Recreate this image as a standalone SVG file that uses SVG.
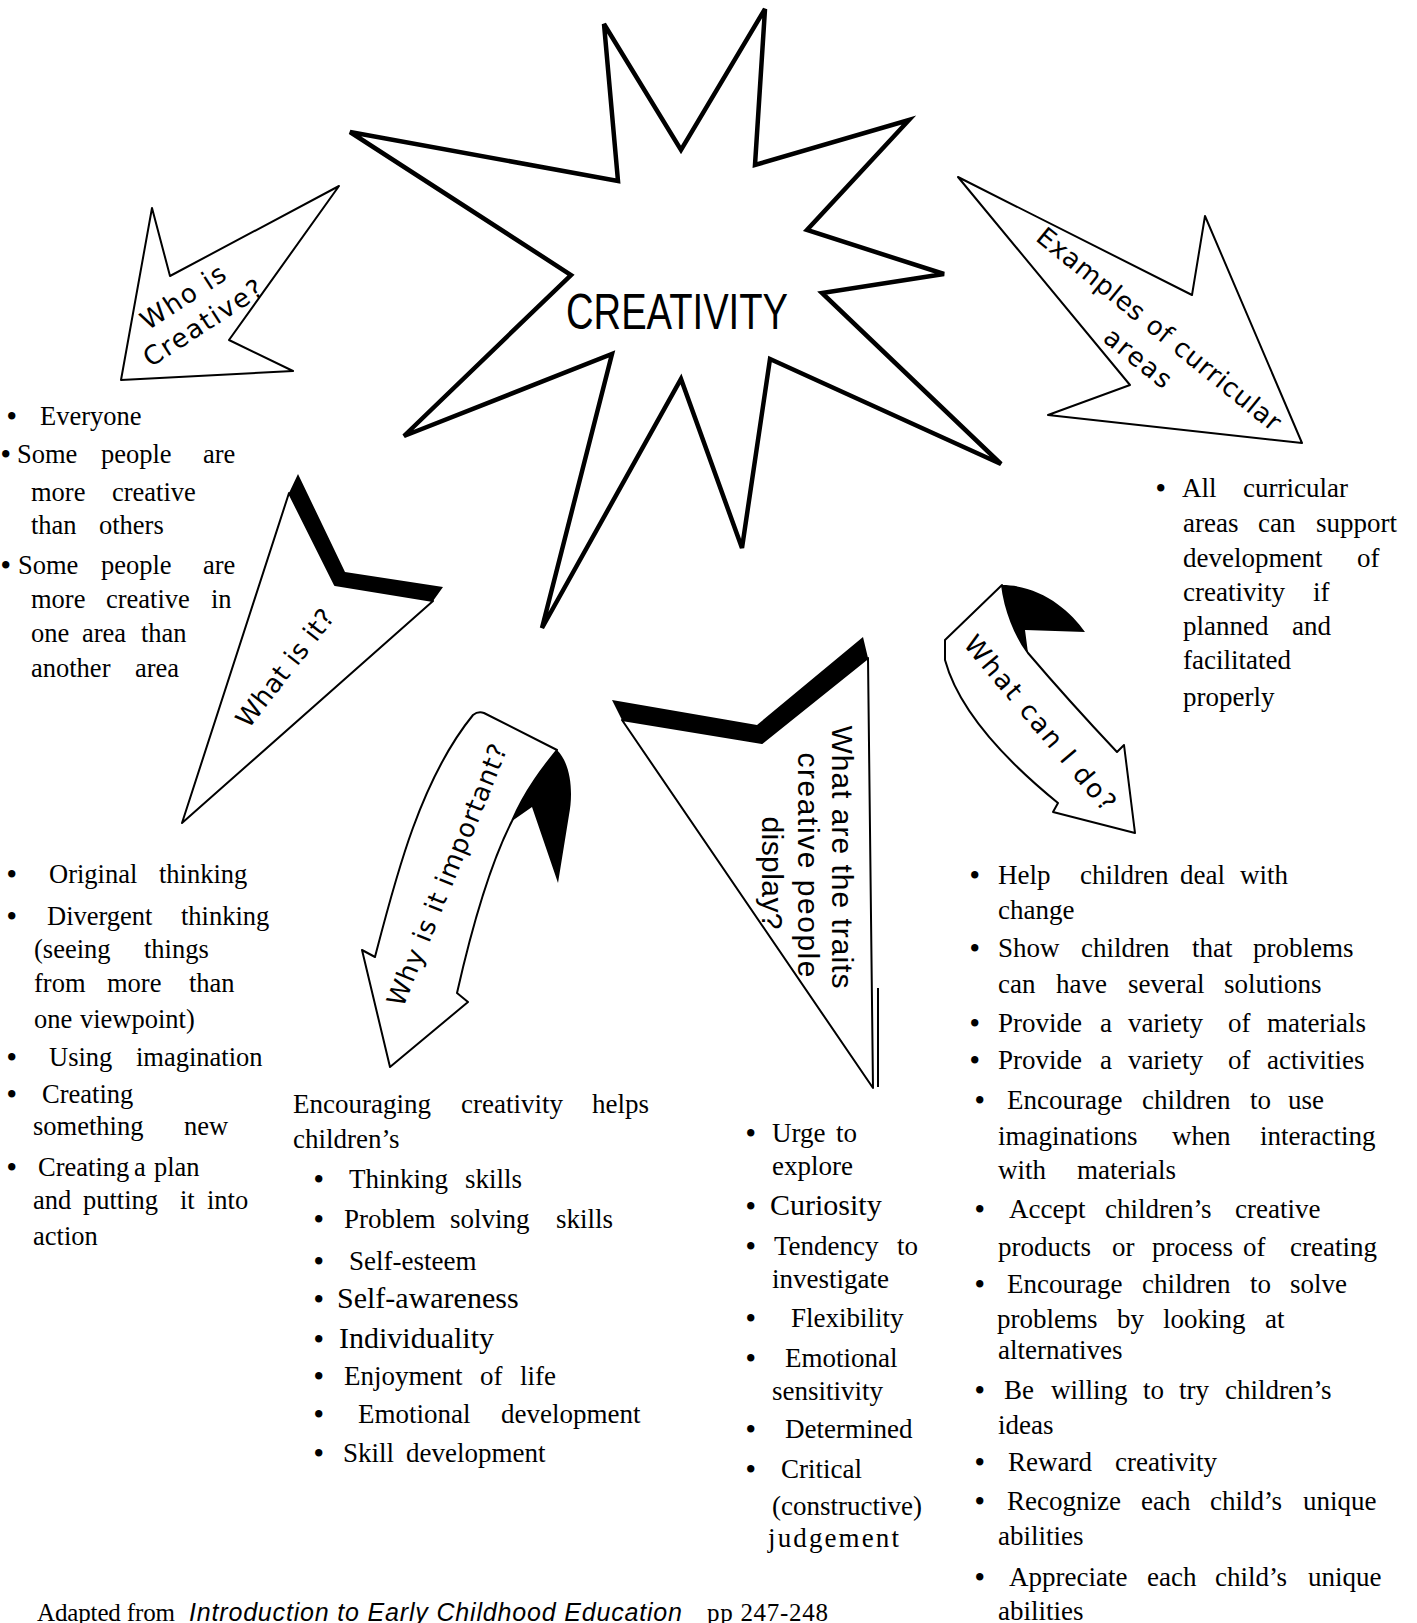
<svg xmlns="http://www.w3.org/2000/svg" width="1417" height="1623" viewBox="0 0 1417 1623">
<style>
text{font-family:"Liberation Serif","Times New Roman",serif;font-size:27px;fill:#000}
#block-who text,#block-what text{font-size:26.5px}
.shape{fill:#fff;stroke:#000;stroke-width:2;stroke-linejoin:round}
.star{fill:#fff;stroke:#000;stroke-width:4.5;stroke-linejoin:miter}
.ink{fill:#000;stroke:none}
.big{font-size:30px}
.b{font-size:27px;font-weight:bold}
.title{font-family:"Liberation Sans",Arial,sans-serif;font-size:50px}
.lbl{font-family:"DejaVu Sans","Liberation Sans",sans-serif;font-size:26px}
.lbl2{font-family:"Liberation Sans",Arial,sans-serif;font-size:30px}
.foot{font-size:25px}
.ital{font-family:"Liberation Sans",Arial,sans-serif;font-style:italic;font-size:25px}
</style>
<rect width="1417" height="1623" fill="#fff"/>

<g id="node-creativity">
<polygon class="star" points="604,24 681,150 765,9 755,165 909,120 807,230 944,274 822,293 1001,464 770,359 742,548 681,379 542,628 612,354 404,436 571,275 350,132 618,181"/>
<text class="title" x="566" y="329" textLength="222" lengthAdjust="spacingAndGlyphs">CREATIVITY</text>
</g>

<g id="connectors">
<g id="arrow-who">
<polygon class="shape" points="339,186 229,340 293,371 121,380 152,208 170,276"/>
<text class="lbl" transform="translate(183,297) rotate(-33)" text-anchor="middle" dominant-baseline="central" textLength="96">Who is</text>
<text class="lbl" transform="translate(203,323) rotate(-33)" text-anchor="middle" dominant-baseline="central" textLength="137">Creative?</text>
</g>
<g id="arrow-examples">
<polygon class="shape" points="958,177 1192,295 1205,216 1302,443 1048,415 1130,385"/>
<text class="lbl" transform="translate(1159,329) rotate(39)" text-anchor="middle" dominant-baseline="central" textLength="306">Examples of curricular</text>
<text class="lbl" transform="translate(1138,358) rotate(39)" text-anchor="middle" dominant-baseline="central" textLength="79">areas</text>
</g>
<g id="arrow-what">
<polygon class="shape" points="289,493 335,585 433,601 182,823"/>
<polygon class="ink" points="298,474 345,572 443,587 433,601 335,585 289,493"/>
<text class="lbl" transform="translate(285,668) rotate(-52)" text-anchor="middle" dominant-baseline="central" textLength="142">What is it?</text>
</g>
<g id="arrow-why">
<path class="shape" d="M473,715 Q478,711 484,713 L557,750 C545,765 525,790 512,821 Q483,878 457,993 L468,1002 L390,1067 L362,950 L375,957 C395,880 420,780 473,715 Z"/>
<path class="ink" d="M557,750 C572,765 573,795 569,815 L558,883 L532,807 L512,821 C525,790 545,765 557,750 Z"/>
<text class="lbl" transform="translate(447,875) rotate(-68)" text-anchor="middle" dominant-baseline="central" textLength="280">Why is it important?</text>
</g>
<g id="arrow-traits">
<polygon class="shape" points="622,720 762,743 868,658 873,1088"/>
<polygon class="ink" points="612,700 757,725 863,637 868,658 762,743 622,720"/>
<line x1="878" y1="988" x2="878" y2="1087" stroke="#000" stroke-width="2"/>
<text class="lbl2" transform="translate(842,857) rotate(90)" text-anchor="middle" dominant-baseline="central" textLength="263">What are the traits</text>
<text class="lbl2" transform="translate(808,865) rotate(90)" text-anchor="middle" dominant-baseline="central" textLength="225">creative people</text>
<text class="lbl2" transform="translate(772,873) rotate(90)" text-anchor="middle" dominant-baseline="central" textLength="113">display?</text>
</g>
<g id="arrow-cando">
<path class="shape" d="M945,640 L1002,585 C1005,610 1015,635 1028,653 Q1068,700 1117,752 L1124,745 L1135,833 L1053,812 L1058,803 C1015,768 960,715 945,660 Z"/>
<path class="ink" d="M1002,585 C1040,585 1070,610 1085,632 L1025,630 L1028,653 C1015,635 1005,610 1002,585 Z"/>
<text class="lbl" transform="translate(1040,723) rotate(50)" text-anchor="middle" dominant-baseline="central" textLength="220">What can I do?</text>
</g>
</g>

<g id="block-who">
<text y="425"><tspan class="b" x="7">•</tspan><tspan x="40">Everyone</tspan></text>
<text y="463"><tspan class="b" x="1">•</tspan><tspan x="17">Some</tspan><tspan x="101">people</tspan><tspan x="203">are</tspan></text>
<text y="501"><tspan x="31">more</tspan><tspan x="112">creative</tspan></text>
<text y="534"><tspan x="31">than</tspan><tspan x="99">others</tspan></text>
<text y="574"><tspan class="b" x="1">•</tspan><tspan x="18">Some</tspan><tspan x="101">people</tspan><tspan x="203">are</tspan></text>
<text y="608"><tspan x="31">more</tspan><tspan x="106">creative</tspan><tspan x="211">in</tspan></text>
<text y="642"><tspan x="31">one</tspan><tspan x="82">area</tspan><tspan x="141">than</tspan></text>
<text y="677"><tspan x="31">another</tspan><tspan x="135">area</tspan></text>
</g>

<g id="block-what">
<text y="883"><tspan class="b" x="7">•</tspan><tspan x="49">Original</tspan><tspan x="159">thinking</tspan></text>
<text y="925"><tspan class="b" x="7">•</tspan><tspan x="47">Divergent</tspan><tspan x="181">thinking</tspan></text>
<text y="958"><tspan x="34">(seeing</tspan><tspan x="144">things</tspan></text>
<text y="992"><tspan x="34">from</tspan><tspan x="107">more</tspan><tspan x="189">than</tspan></text>
<text y="1028"><tspan x="34">one</tspan><tspan x="80">viewpoint)</tspan></text>
<text y="1066"><tspan class="b" x="7">•</tspan><tspan x="49">Using</tspan><tspan x="136">imagination</tspan></text>
<text y="1103"><tspan class="b" x="7">•</tspan><tspan x="42">Creating</tspan></text>
<text y="1135"><tspan x="33">something</tspan><tspan x="184">new</tspan></text>
<text y="1176"><tspan class="b" x="7">•</tspan><tspan x="38">Creating</tspan><tspan x="134">a</tspan><tspan x="154">plan</tspan></text>
<text y="1209"><tspan x="33">and</tspan><tspan x="83">putting</tspan><tspan x="180">it</tspan><tspan x="207">into</tspan></text>
<text y="1245"><tspan x="33">action</tspan></text>
</g>

<g id="block-why">
<text y="1113"><tspan x="293">Encouraging</tspan><tspan x="461">creativity</tspan><tspan x="592">helps</tspan></text>
<text y="1148"><tspan x="293">children’s</tspan></text>
<text y="1188"><tspan class="b" x="314">•</tspan><tspan x="349">Thinking</tspan><tspan x="465">skills</tspan></text>
<text y="1228"><tspan class="b" x="314">•</tspan><tspan x="344">Problem</tspan><tspan x="450">solving</tspan><tspan x="556">skills</tspan></text>
<text y="1270"><tspan class="b" x="314">•</tspan><tspan x="349">Self-esteem</tspan></text>
<text y="1308"><tspan class="b" x="314">•</tspan><tspan class="big" x="337">Self-awareness</tspan></text>
<text y="1348"><tspan class="b" x="314">•</tspan><tspan class="big" x="339">Individuality</tspan></text>
<text y="1385"><tspan class="b" x="314">•</tspan><tspan x="344">Enjoyment</tspan><tspan x="480">of</tspan><tspan x="520">life</tspan></text>
<text y="1423"><tspan class="b" x="314">•</tspan><tspan x="358">Emotional</tspan><tspan x="501">development</tspan></text>
<text y="1462"><tspan class="b" x="314">•</tspan><tspan x="343">Skill</tspan><tspan x="406">development</tspan></text>
</g>

<g id="block-traits">
<text y="1142"><tspan class="b" x="746">•</tspan><tspan x="772">Urge</tspan><tspan x="836">to</tspan></text>
<text y="1175"><tspan x="772">explore</tspan></text>
<text y="1215"><tspan class="b" x="746">•</tspan><tspan class="big" x="770">Curiosity</tspan></text>
<text y="1255"><tspan class="b" x="746">•</tspan><tspan x="774">Tendency</tspan><tspan x="897">to</tspan></text>
<text y="1288"><tspan x="772">investigate</tspan></text>
<text y="1327"><tspan class="b" x="746">•</tspan><tspan x="791">Flexibility</tspan></text>
<text y="1367"><tspan class="b" x="746">•</tspan><tspan x="785">Emotional</tspan></text>
<text y="1400"><tspan x="772">sensitivity</tspan></text>
<text y="1438"><tspan class="b" x="746">•</tspan><tspan x="785">Determined</tspan></text>
<text y="1478"><tspan class="b" x="746">•</tspan><tspan x="781">Critical</tspan></text>
<text y="1515"><tspan x="772">(constructive)</tspan></text>
<text y="1547" x="768" textLength="131">judgement</text>
</g>

<g id="block-cando">
<text y="884"><tspan class="b" x="970">•</tspan><tspan x="998">Help</tspan><tspan x="1080">children</tspan><tspan x="1180">deal</tspan><tspan x="1240">with</tspan></text>
<text y="919"><tspan x="998">change</tspan></text>
<text y="957"><tspan class="b" x="970">•</tspan><tspan x="998">Show</tspan><tspan x="1081">children</tspan><tspan x="1192">that</tspan><tspan x="1253">problems</tspan></text>
<text y="993"><tspan x="998">can</tspan><tspan x="1056">have</tspan><tspan x="1128">several</tspan><tspan x="1224">solutions</tspan></text>
<text y="1032"><tspan class="b" x="970">•</tspan><tspan x="998">Provide</tspan><tspan x="1100">a</tspan><tspan x="1128">variety</tspan><tspan x="1228">of</tspan><tspan x="1267">materials</tspan></text>
<text y="1069"><tspan class="b" x="970">•</tspan><tspan x="998">Provide</tspan><tspan x="1100">a</tspan><tspan x="1128">variety</tspan><tspan x="1228">of</tspan><tspan x="1267">activities</tspan></text>
<text y="1109"><tspan class="b" x="975">•</tspan><tspan x="1007">Encourage</tspan><tspan x="1142">children</tspan><tspan x="1250">to</tspan><tspan x="1288">use</tspan></text>
<text y="1145"><tspan x="998">imaginations</tspan><tspan x="1172">when</tspan><tspan x="1260">interacting</tspan></text>
<text y="1179"><tspan x="998">with</tspan><tspan x="1077">materials</tspan></text>
<text y="1218"><tspan class="b" x="975">•</tspan><tspan x="1009">Accept</tspan><tspan x="1105">children’s</tspan><tspan x="1235">creative</tspan></text>
<text y="1256"><tspan x="998">products</tspan><tspan x="1112">or</tspan><tspan x="1152">process</tspan><tspan x="1243">of</tspan><tspan x="1290">creating</tspan></text>
<text y="1293"><tspan class="b" x="975">•</tspan><tspan x="1007">Encourage</tspan><tspan x="1142">children</tspan><tspan x="1250">to</tspan><tspan x="1290">solve</tspan></text>
<text y="1328"><tspan x="997">problems</tspan><tspan x="1117">by</tspan><tspan x="1163">looking</tspan><tspan x="1265">at</tspan></text>
<text y="1359"><tspan x="998">alternatives</tspan></text>
<text y="1399"><tspan class="b" x="975">•</tspan><tspan x="1004">Be</tspan><tspan x="1051">willing</tspan><tspan x="1143">to</tspan><tspan x="1179">try</tspan><tspan x="1225">children’s</tspan></text>
<text y="1434"><tspan x="998">ideas</tspan></text>
<text y="1471"><tspan class="b" x="975">•</tspan><tspan x="1008">Reward</tspan><tspan x="1115">creativity</tspan></text>
<text y="1510"><tspan class="b" x="975">•</tspan><tspan x="1007">Recognize</tspan><tspan x="1141">each</tspan><tspan x="1210">child’s</tspan><tspan x="1303">unique</tspan></text>
<text y="1545"><tspan x="998">abilities</tspan></text>
<text y="1586"><tspan class="b" x="975">•</tspan><tspan x="1009">Appreciate</tspan><tspan x="1147">each</tspan><tspan x="1215">child’s</tspan><tspan x="1308">unique</tspan></text>
<text y="1620"><tspan x="998">abilities</tspan></text>
</g>

<g id="block-examples">
<text y="497"><tspan class="b" x="1156">•</tspan><tspan x="1182">All</tspan><tspan x="1243">curricular</tspan></text>
<text y="532"><tspan x="1183">areas</tspan><tspan x="1258">can</tspan><tspan x="1316">support</tspan></text>
<text y="567"><tspan x="1183">development</tspan><tspan x="1357">of</tspan></text>
<text y="601"><tspan x="1183">creativity</tspan><tspan x="1313">if</tspan></text>
<text y="635"><tspan x="1183">planned</tspan><tspan x="1292">and</tspan></text>
<text y="669"><tspan x="1183">facilitated</tspan></text>
<text y="706"><tspan x="1183">properly</tspan></text>
</g>

<g id="footer">
<text class="foot" x="37" y="1621" textLength="138">Adapted from</text>
<text class="ital" x="189" y="1621" textLength="493">Introduction to Early Childhood Education</text>
<text class="foot" x="707" y="1621" textLength="121">pp 247-248</text>
</g>
</svg>
